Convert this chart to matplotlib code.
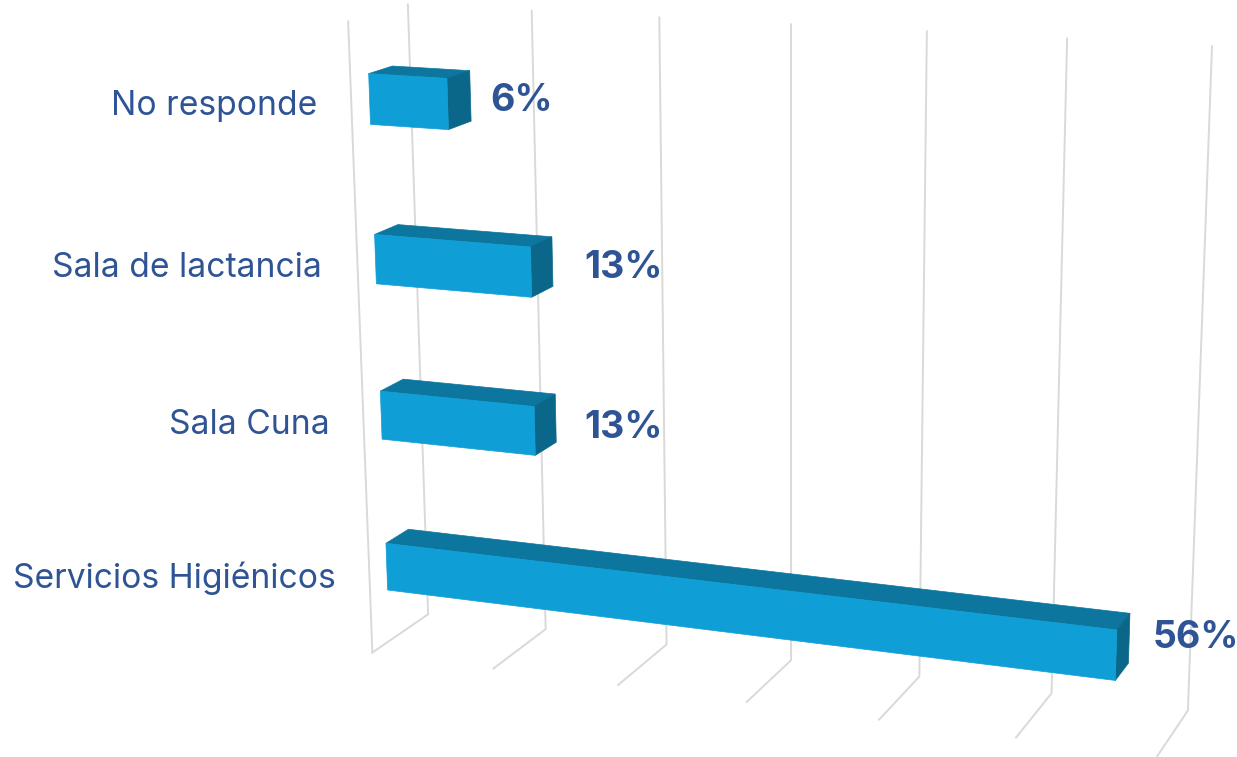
import numpy as np
import matplotlib
matplotlib.use("Agg")
import matplotlib.pyplot as plt

categories = ["Servicios Higiénicos", "Sala Cuna", "Sala de lactancia", "No responde"]
values = [56.25, 12.5, 12.5, 6.25]
value_labels = ["56%", "13%", "13%", "6%"]
grid_ticks = [0, 10, 20, 30, 40, 50, 60]

# pixel layout of the labels
cat_label_right = [336, 330, 322, 317]
cat_label_y = [578, 425, 268, 106]
val_label_left = [1153, 584, 584, 490]
val_label_y = [638, 428, 268, 101]

# gridline corners in the picture, used to calibrate the 3d view
back_top = [(408, 2), (532, 12), (659, 18), (791, 25), (927, 32), (1067, 38), (1212, 46)]
back_floor = [(428, 615), (546, 630), (667, 645), (791, 660), (919, 675), (1051, 692), (1188, 712)]
front_floor = [(372, 652), (494, 668), (618, 685), (746, 702), (879, 720), (1016, 738), (1158, 756)]
front_top = (348, 22)

FACE = "#0F9ED5"
TOP = "#0C769E"
SIDE = "#0A6789"
TEXT = "#2F5496"
GRID = "#D9D9D9"

BAR_CENTER = [0.1245, 0.374, 0.624, 0.8735]
BAR_H = 0.078
D0, D1 = 0.30, 0.70


def fit_camera():
    """Fit a projective camera from (value, height, depth) to pixels"""
    world, pix = [], []
    for i, v in enumerate(grid_ticks):
        world += [(v / 60, 1, 1), (v / 60, 0, 1), (v / 60, 0, 0)]
        pix += [back_top[i], back_floor[i], front_floor[i]]
    world.append((0, 1, 0))
    pix.append(front_top)
    rows = []
    for (x, y, z), (u, w) in zip(world, pix):
        rows.append([x, y, z, 1, 0, 0, 0, 0, -u * x, -u * y, -u * z, -u])
        rows.append([0, 0, 0, 0, x, y, z, 1, -w * x, -w * y, -w * z, -w])
    return np.linalg.svd(np.array(rows, dtype=float))[2][-1].reshape(3, 4)


P = fit_camera()


def project(v, h, d):
    p = P @ np.array([v / 60, h, d, 1.0])
    return p[0] / p[2], p[1] / p[2]


fig = plt.figure(figsize=(12.37, 7.57), dpi=100)
ax = fig.add_axes([0, 0, 1, 1])
ax.set_xlim(0, 1237)
ax.set_ylim(757, 0)
ax.axis("off")

# walls
for v in grid_ticks:
    pts = [project(v, 1, 1), project(v, 0, 1), project(v, 0, 0)]
    ax.plot(*zip(*pts), color=GRID, lw=1.4, zorder=1)
ax.plot(*zip(project(0, 1, 0), project(0, 0, 0)), color=GRID, lw=1.4, zorder=1)

# bars
for i, v in enumerate(values):
    lo, hi = BAR_CENTER[i] - BAR_H / 2, BAR_CENTER[i] + BAR_H / 2
    top = [project(0, hi, D0), project(v, hi, D0), project(v, hi, D1), project(0, hi, D1)]
    side = [project(v, lo, D0), project(v, hi, D0), project(v, hi, D1), project(v, lo, D1)]
    face = [project(0, lo, D0), project(v, lo, D0), project(v, hi, D0), project(0, hi, D0)]
    ax.fill(*zip(*top), color=TOP, lw=0.5, zorder=3)
    ax.fill(*zip(*side), color=SIDE, lw=0.5, zorder=3)
    ax.fill(*zip(*face), color=FACE, lw=0.5, zorder=3)

    ax.text(cat_label_right[i], cat_label_y[i], categories[i], ha="right", va="center",
            color=TEXT, fontsize=24.2, family="Inter", zorder=4)
    ax.text(val_label_left[i], val_label_y[i], value_labels[i], ha="left", va="center",
            color=TEXT, fontsize=27, fontweight="bold", family="Inter", zorder=4)

fig.savefig("out.png", dpi=100)
